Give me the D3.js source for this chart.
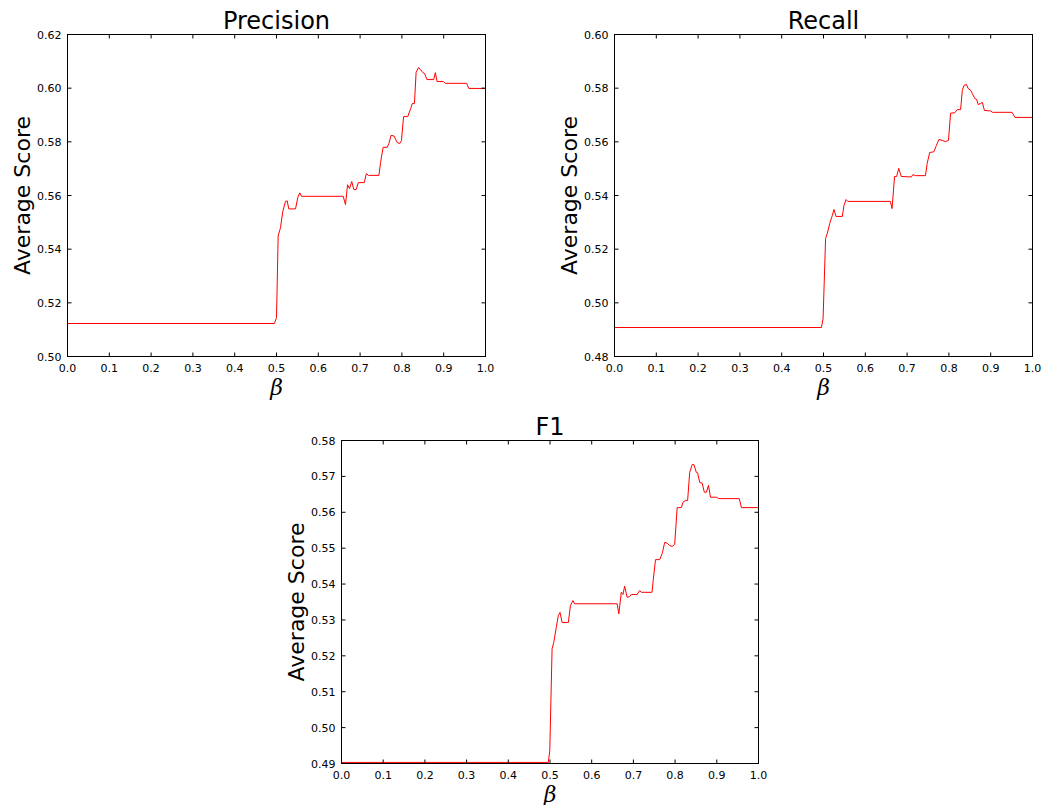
<!DOCTYPE html>
<html><head><meta charset="utf-8">
<script src="https://cdn.jsdelivr.net/npm/d3@7"></script>
<style>body{margin:0;background:#fff}svg{display:block}text{font-family:"DejaVu Sans",sans-serif}</style>
</head><body>
<svg id="c" width="1044" height="805"></svg>
<script>
const betaP = [0,0.495,0.5,0.504,0.5096,0.515,0.5215,0.5256,0.5294,0.5455,0.551,0.5557,0.5598,0.6596,0.665,0.67,0.6746,0.68,0.685,0.6906,0.6955,0.71,0.715,0.72,0.745,0.749,0.755,0.765,0.769,0.774,0.781,0.789,0.795,0.799,0.804,0.814,0.821,0.825,0.83,0.834,0.84,0.844,0.85,0.854,0.86,0.876,0.88,0.884,0.899,0.904,0.955,0.96,1.0];
const precision = [0.5123,0.5123,0.5145,0.545,0.548,0.554,0.5578,0.558,0.555,0.555,0.5593,0.561,0.5597,0.5597,0.5566,0.564,0.5626,0.5652,0.5622,0.5622,0.5648,0.5648,0.5682,0.5675,0.5675,0.5723,0.5779,0.578,0.5794,0.5824,0.5822,0.5797,0.5794,0.5805,0.5894,0.5894,0.5924,0.5943,0.5943,0.6059,0.6077,0.607,0.6058,0.6055,0.6032,0.6032,0.6058,0.6025,0.6025,0.6018,0.6018,0.5999,0.5999];
const betaR = [0,0.495,0.499,0.505,0.509,0.515,0.521,0.525,0.53,0.545,0.549,0.554,0.558,0.66,0.664,0.67,0.675,0.68,0.686,0.71,0.714,0.72,0.744,0.748,0.754,0.764,0.77,0.776,0.784,0.792,0.799,0.804,0.814,0.82,0.828,0.832,0.836,0.842,0.846,0.852,0.856,0.862,0.866,0.87,0.876,0.88,0.885,0.9,0.904,0.951,0.958,1.0];
const recall = [0.4908,0.4908,0.4941,0.524,0.5258,0.5296,0.5325,0.5348,0.5322,0.5322,0.5363,0.5385,0.5378,0.5378,0.5351,0.5471,0.5471,0.5501,0.5471,0.5469,0.5478,0.5474,0.5474,0.5519,0.556,0.5563,0.5586,0.5609,0.5605,0.5601,0.5605,0.5707,0.5708,0.572,0.572,0.5791,0.581,0.5814,0.5799,0.5792,0.578,0.5761,0.5759,0.5739,0.5743,0.5747,0.5717,0.5715,0.571,0.571,0.5691,0.5691];
const betaF = [0,0.496,0.4995,0.505,0.509,0.515,0.52,0.524,0.529,0.544,0.549,0.555,0.559,0.661,0.665,0.671,0.675,0.679,0.685,0.691,0.695,0.709,0.715,0.719,0.7446,0.7475,0.753,0.763,0.769,0.775,0.781,0.787,0.793,0.799,0.805,0.815,0.819,0.825,0.83,0.835,0.841,0.845,0.851,0.854,0.859,0.865,0.87,0.875,0.88,0.885,0.899,0.905,0.954,0.959,1.0];
const f1 = [0.4903,0.4903,0.4936,0.522,0.5237,0.5279,0.5312,0.5321,0.5293,0.5293,0.534,0.5354,0.5345,0.5345,0.5317,0.5377,0.5371,0.5394,0.5363,0.5365,0.5371,0.5371,0.5382,0.5377,0.5377,0.541,0.5468,0.5468,0.5485,0.5516,0.5514,0.5507,0.5505,0.551,0.5613,0.5613,0.5628,0.5633,0.5633,0.5711,0.5733,0.5733,0.5711,0.571,0.5683,0.5681,0.5656,0.5656,0.5675,0.5642,0.5642,0.5638,0.5638,0.5613,0.5613];
const xTicks = [0,0.1,0.2,0.3,0.4,0.5,0.6,0.7,0.8,0.9,1.0];
const yTicksP = [0.50,0.52,0.54,0.56,0.58,0.60,0.62];
const yTicksR = [0.48,0.50,0.52,0.54,0.56,0.58,0.60];
const yTicksF = [0.49,0.50,0.51,0.52,0.53,0.54,0.55,0.56,0.57,0.58];
const titles = ["Precision","Recall","F1"];

const svg = d3.select("#c");
function panel(left, top, w, h, xs, ys, yTicks, title, yFmt) {
  const g = svg.append("g").attr("transform", `translate(${left},${top})`);
  const x = d3.scaleLinear().domain([0,1]).range([0,w]);
  const y = d3.scaleLinear().domain([yTicks[0], yTicks[yTicks.length-1]]).range([h,0]);
  const line = d3.line().x((d,i)=>x(xs[i])).y(d=>y(d));
  g.append("path").datum(ys).attr("d", line).attr("fill","none").attr("stroke","#ff0000").attr("stroke-width",1);
  const tl = 4;
  // ticks inward
  const ax = g.append("g");
  xTicks.forEach(t=>{
    ax.append("line").attr("x1",x(t)).attr("x2",x(t)).attr("y1",h).attr("y2",h-tl).attr("stroke","#000");
    ax.append("line").attr("x1",x(t)).attr("x2",x(t)).attr("y1",0).attr("y2",tl).attr("stroke","#000");
    ax.append("text").attr("x",x(t)).attr("y",h+15).attr("text-anchor","middle").attr("font-size",11).text(d3.format(".1f")(t));
  });
  yTicks.forEach(t=>{
    ax.append("line").attr("x1",0).attr("x2",tl).attr("y1",y(t)).attr("y2",y(t)).attr("stroke","#000");
    ax.append("line").attr("x1",w).attr("x2",w-tl).attr("y1",y(t)).attr("y2",y(t)).attr("stroke","#000");
    ax.append("text").attr("x",-6).attr("y",y(t)+4).attr("text-anchor","end").attr("font-size",11).text(d3.format(yFmt)(t));
  });
  g.append("rect").attr("x",0).attr("y",0).attr("width",w).attr("height",h).attr("fill","none").attr("stroke","#000").attr("stroke-width",1);
  g.append("text").attr("x",w/2).attr("y",-6).attr("text-anchor","middle").attr("font-size",24).text(title);
  g.append("text").attr("transform",`translate(-38,${h/2}) rotate(-90)`).attr("text-anchor","middle").attr("font-size",22).text("Average Score");
  g.append("text").attr("x",w/2).attr("y",h+38).attr("text-anchor","middle").attr("font-size",22).attr("font-style","italic").style("font-family","'DejaVu Serif',serif").text("β");
}
panel(67.5,34.5,418,322,betaP,precision,yTicksP,titles[0],".2f");
panel(614.5,34.5,418,322,betaR,recall,yTicksR,titles[1],".2f");
panel(341.5,440.5,417,323,betaF,f1,yTicksF,titles[2],".2f");
</script>
</body></html>
